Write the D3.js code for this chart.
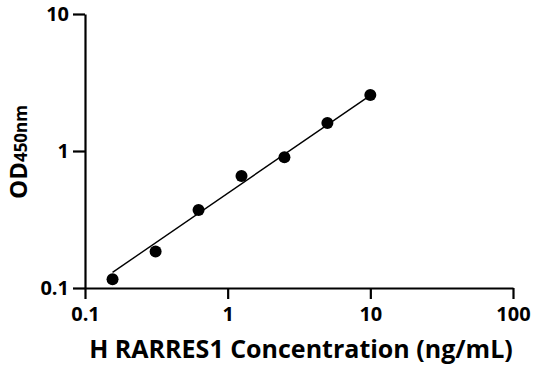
<!DOCTYPE html>
<html>
<head>
<meta charset="utf-8">
<script src="https://cdn.jsdelivr.net/npm/d3@7"></script>
<style>
  body { margin: 0; background: #fff; }
  text { font-family: "Open Sans", sans-serif; font-weight: 700; fill: #000; }
</style>
</head>
<body>
<div id="chart"></div>
<script>
///// Data

// standard concentrations (ng/mL) and measured OD450
let concentration = [0.156, 0.3125, 0.625, 1.25, 2.5, 5, 10];
let od = [0.116, 0.185, 0.371, 0.657, 0.90, 1.60, 2.56];

// fitted standard curve, end points
let fitX = [0.156, 10];
let fitY = [0.130, 2.55];

let xTicks = [0.1, 1, 10, 100];
let yTicks = [0.1, 1, 10];

///// D3

let margin = { top: 14, right: 23, bottom: 83, left: 85 },
    width = 536 - margin.left - margin.right,
    height = 371 - margin.top - margin.bottom;

let x = d3.scaleLog().domain([0.1, 100]).range([0, width]);
let y = d3.scaleLog().domain([0.1, 10]).range([height, 0]);

let svg = d3.select("#chart")
    .append("svg")
    .attr("width", 536)
    .attr("height", 371)
    .append("g")
    .attr("transform", "translate(" + margin.left + "," + margin.top + ")");

// fit line
let fitline = d3.line()
    .x(function(d) { return x(d[0]); })
    .y(function(d) { return y(d[1]); });

svg.append("path")
    .datum(d3.zip(fitX, fitY))
    .attr("fill", "none")
    .attr("stroke", "#000")
    .attr("stroke-width", 1.4)
    .attr("d", fitline);

// points
svg.selectAll(".dot")
    .data(d3.zip(concentration, od))
    .enter().append("circle")
    .attr("class", "dot")
    .attr("cx", function(d) { return x(d[0]); })
    .attr("cy", function(d) { return y(d[1]); })
    .attr("r", 6)
    .attr("fill", "#000");

// X axis
let xAxis = svg.append("g")
    .attr("transform", "translate(0," + height + ")")
    .call(d3.axisBottom(x).tickValues(xTicks).tickSize(11).tickSizeOuter(0)
        .tickPadding(8).tickFormat(d3.format("")));

// Y axis
let yAxis = svg.append("g")
    .call(d3.axisLeft(y).tickValues(yTicks).tickSize(12).tickSizeOuter(0)
        .tickPadding(4).tickFormat(d3.format("")));

[xAxis, yAxis].forEach(function(a) {
    a.attr("font-size", null).attr("font-family", null);
    a.selectAll("path, line").attr("stroke", "#000").attr("stroke-width", 2.2);
    a.selectAll("text").style("font-size", "20px").attr("fill", "#000");
});

// X title
svg.append("text")
    .attr("x", (0 + width) / 2 + 2)
    .attr("y", height + 70)
    .attr("text-anchor", "middle")
    .style("font-size", "25px")
    .text("H RARRES1 Concentration (ng/mL)");

// Y title
let yTitle = svg.append("text")
    .attr("transform", "translate(" + (27 - margin.left) + "," + (152 - margin.top) + ") rotate(-90)")
    .attr("text-anchor", "middle");
yTitle.append("tspan").style("font-size", "24px").text("OD");
yTitle.append("tspan").style("font-size", "17px").text("450nm");
</script>
</body>
</html>
